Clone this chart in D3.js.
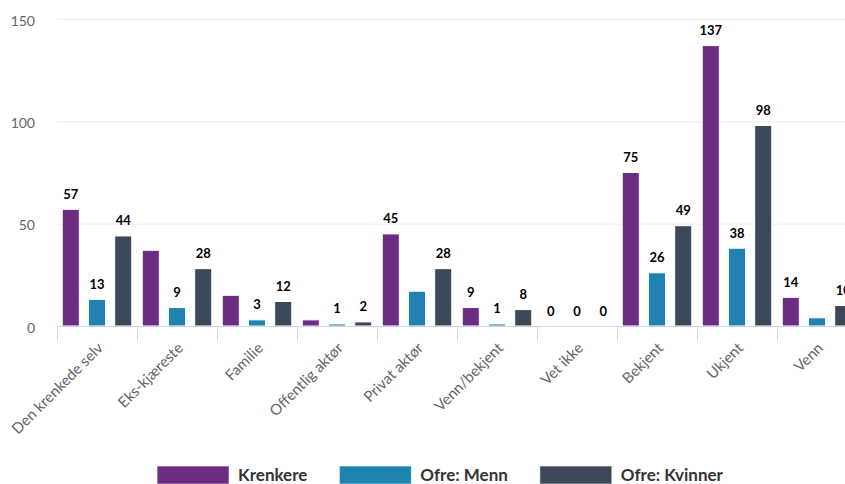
<!DOCTYPE html>
<html>
<head>
<meta charset="utf-8">
<script src="https://cdn.jsdelivr.net/npm/d3@7"></script>
<style>
  body { margin: 0; overflow: hidden; background: #fff; }
  svg { display: block; font-family: 'Source Sans Pro', Lato, sans-serif; }
  .ytick text { fill: #666; font-size: 14px; }
  .xtick text { fill: #666; font-size: 15px; }
  .label { font-size: 13px; font-weight: bold; fill: #000; }
  .legend text { font-size: 17px; font-weight: bold; fill: #333; }
</style>
</head>
<body>
<svg id="chart"></svg>
<script>
// kategorier og verdier
const kategorier = ['Den krenkede selv', 'Eks-kjæreste', 'Familie', 'Offentlig aktør', 'Privat aktør',
  'Venn/bekjent', 'Vet ikke', 'Bekjent', 'Ukjent', 'Venn'];
const serier = ['Krenkere', 'Ofre: Menn', 'Ofre: Kvinner'];
const krenkere = [57, 37, 15, 3, 45, 9, 0, 75, 137, 14];
const ofreMenn = [13, 9, 3, 1, 17, 1, 0, 26, 38, 4];
const ofreKvinner = [44, 28, 12, 2, 28, 8, 0, 49, 98, 10];
const yTicks = [0, 50, 100, 150];
// etiketter som Highcharts skjulte (overlapp)
const skjulteEtiketter = [['Eks-kjæreste', 'Krenkere'], ['Familie', 'Krenkere'], ['Offentlig aktør', 'Krenkere'],
  ['Privat aktør', 'Ofre: Menn'], ['Venn', 'Ofre: Menn']];

const farger = ['#6b2c81', '#1e83b0', '#3c4858'];
const verdier = [krenkere, ofreMenn, ofreKvinner];

const w = 880;   // diagrammet er bredere enn vinduet
const h = 484;
const venstre = 57;
const hoyre = 857;
const topp = 19;
const bunn = 326;

let svg = d3.select('#chart')
  .attr('width', w)
  .attr('height', h);

const x0 = d3.scaleBand()
  .domain(kategorier)
  .range([venstre, hoyre]);

const x1 = d3.scaleBand()
  .domain(serier)
  .range([0, x0.bandwidth()])
  .paddingInner(0.35)
  .paddingOuter(0.2);

const y = d3.scaleLinear()
  .domain([0, 150])
  .range([bunn, topp]);

// rutenett
svg.append('g')
  .attr('transform', 'translate(' + venstre + ', 0)')
  .call(d3.axisLeft(y).tickValues(yTicks).tickSize(-(w - venstre)).tickFormat(''))
  .call(g => g.select('.domain').remove())
  .selectAll('line')
  .attr('stroke', '#ededed');

// y-akse tekst
svg.append('g')
  .attr('class', 'ytick')
  .attr('transform', 'translate(35, 0)')
  .call(d3.axisLeft(y).tickValues(yTicks).tickSize(0).tickPadding(0))
  .call(g => g.select('.domain').remove())
  .call(g => g.attr('font-family', null).attr('font-size', null))
  .selectAll('text')
  .attr('dy', '0.45em');

// søyler
let data = [];
kategorier.forEach((k, i) => {
  serier.forEach((s, j) => {
    data.push({kat: k, serie: s, verdi: verdier[j][i], farge: farger[j]});
  });
});

svg.append('g')
  .selectAll('rect')
  .data(data)
  .enter()
  .append('rect')
  .attr('x', d => x0(d.kat) + x1(d.serie))
  .attr('y', d => y(d.verdi))
  .attr('width', x1.bandwidth())
  .attr('height', d => bunn - y(d.verdi))
  .attr('fill', d => d.farge)
  .attr('stroke', '#fff')
  .attr('stroke-width', 1);

// verdietiketter
const skjult = d => skjulteEtiketter.some(e => e[0] === d.kat && e[1] === d.serie);

svg.append('g')
  .selectAll('text')
  .data(data.filter(d => !skjult(d)))
  .enter()
  .append('text')
  .attr('class', 'label')
  .attr('text-anchor', 'middle')
  .attr('x', d => x0(d.kat) + x1(d.serie) + x1.bandwidth() / 2)
  .attr('y', d => y(d.verdi) - 10.5)
  .text(d => d.verdi);

// x-akse
svg.append('line')
  .attr('x1', venstre)
  .attr('x2', w)
  .attr('y1', bunn + 0.5)
  .attr('y2', bunn + 0.5)
  .attr('stroke', '#ccd6eb');

svg.append('g')
  .selectAll('line')
  .data(kategorier.concat(['slutt']))
  .enter()
  .append('line')
  .attr('x1', (d, i) => venstre + i * x0.step() + 0.5)
  .attr('x2', (d, i) => venstre + i * x0.step() + 0.5)
  .attr('y1', bunn)
  .attr('y2', bunn + 14)
  .attr('stroke', '#ccd6eb');

svg.append('g')
  .attr('class', 'xtick')
  .selectAll('text')
  .data(kategorier)
  .enter()
  .append('text')
  .attr('text-anchor', 'end')
  .attr('transform', d => 'translate(' + (x0(d) + x0.bandwidth() / 2 + 7) + ', ' + (bunn + 23) + ') rotate(-45)')
  .text(d => d);

// forklaring
let legend = svg.append('g').attr('class', 'legend');
let pos = 0;
serier.forEach((s, j) => {
  let item = legend.append('g').attr('transform', 'translate(' + pos + ', 0)');
  item.append('rect')
    .attr('x', 0)
    .attr('y', 466)
    .attr('width', 72)
    .attr('height', 18)
    .attr('fill', farger[j])
    .attr('stroke', '#fff')
    .attr('stroke-opacity', 0.6);
  let t = item.append('text')
    .attr('x', 81)
    .attr('y', 481)
    .text(s);
  pos += 81 + t.node().getComputedTextLength() + 32;
});
pos -= 32;
legend.attr('transform', 'translate(' + (440 - pos / 2) + ', 0)');
</script>
</body>
</html>
